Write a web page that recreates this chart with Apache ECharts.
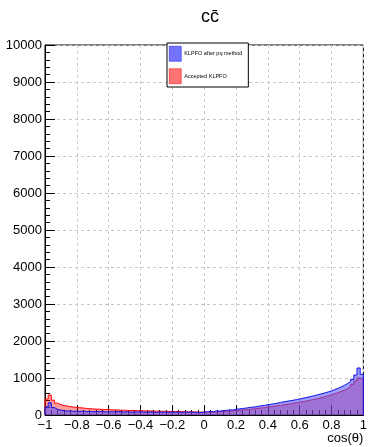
<!DOCTYPE html>
<html>
<head>
<meta charset="utf-8">
<script src="https://cdn.jsdelivr.net/npm/echarts@6/dist/echarts.min.js"></script>
<style>
  html, body { margin: 0; padding: 0; background: #fff; }
  #chart { width: 370px; height: 447px; }
</style>
</head>
<body>
<div id="chart"></div>
<script>
// cos(theta) histograms, 100 bins from -1 to 1
const binEdgeLow = -1;
const binWidth = 0.02;

// KLPFO after pq method (entries per bin)
const klpfoAfterPq = [
  220, 330, 200, 150, 130, 120, 105, 115, 100, 105,
  95, 110, 90, 100, 85, 95, 90, 100, 85, 80,
  90, 80, 95, 85, 80, 90, 75, 85, 80, 90,
  80, 75, 85, 80, 70, 85, 75, 80, 70, 85,
  75, 80, 70, 85, 75, 80, 70, 75, 65, 80,
  85, 95, 90, 110, 105, 120, 125, 140, 135, 155,
  165, 175, 185, 200, 210, 220, 235, 250, 260, 280,
  290, 305, 320, 340, 355, 370, 385, 400, 415, 435,
  450, 470, 490, 510, 530, 555, 575, 600, 625, 650,
  690, 720, 760, 800, 850, 900, 960, 1080, 1270, 1100
];

// Accepted KLPFO (entries per bin)
const acceptedKlpfo = [
  430, 540, 400, 320, 280, 255, 240, 225, 215, 205,
  195, 190, 178, 172, 165, 160, 155, 150, 148, 145,
  140, 138, 135, 130, 130, 125, 122, 120, 118, 115,
  112, 110, 108, 105, 104, 102, 100, 98, 96, 95,
  93, 92, 90, 88, 86, 85, 83, 80, 78, 75,
  72, 75, 80, 85, 90, 95, 100, 105, 110, 120,
  125, 135, 140, 150, 160, 170, 180, 190, 200, 215,
  225, 235, 250, 260, 275, 285, 300, 315, 330, 345,
  360, 375, 395, 410, 430, 450, 470, 495, 520, 545,
  575, 600, 635, 670, 710, 760, 830, 920, 1000, 960
];

const seriesNames = ['KLPFO after pq method', 'Accepted KLPFO'];

// turn bin contents into step-outline points (left edges + closing edge)
function histPoints(counts) {
  const pts = [[binEdgeLow, 0]];
  counts.forEach((v, i) => pts.push([+(binEdgeLow + i * binWidth).toFixed(4), v]));
  const hi = +(binEdgeLow + counts.length * binWidth).toFixed(4);
  pts.push([hi, counts[counts.length - 1]]);
  pts.push([hi, 0]);
  return pts;
}

const font = '"Liberation Sans", Arial, Helvetica, sans-serif';
const chart = echarts.init(document.getElementById('chart'), null, { renderer: 'canvas' });

chart.setOption({
  animation: false,
  backgroundColor: '#ffffff',
  title: {
    text: 'cc\u0304',
    left: 205,
    top: 3,
    textAlign: 'center',
    textStyle: { fontFamily: font, fontSize: 18, fontWeight: 'normal', color: '#000' }
  },
  legend: {
    data: seriesNames,
    orient: 'vertical',
    left: 167,
    top: 43,
    padding: [3, 6, 3, 2],
    itemGap: 7,
    itemWidth: 12,
    itemHeight: 15,
    icon: 'rect',
    backgroundColor: '#ffffff',
    borderColor: '#000',
    borderWidth: 1,
    itemStyle: { borderWidth: 0.5 },
    textStyle: { fontFamily: font, fontSize: 5.5, color: '#000', padding: [0, 0, 0, -2] },
    z: 10
  },
  grid: { left: 45, right: 4, top: 45, bottom: 32, show: true, borderColor: '#000', borderWidth: 1, containLabel: false },
  xAxis: {
    type: 'value',
    min: -1,
    max: 1,
    interval: 0.2,
    name: 'cos(\u03b8)',
    nameLocation: 'end',
    nameGap: 0,
    nameTextStyle: { fontFamily: font, fontSize: 13, color: '#000', align: 'right', verticalAlign: 'top', padding: [17, 0, 0, 0] },
    axisLine: { show: true, onZero: false, lineStyle: { color: '#000', width: 1 } },
    axisTick: { show: true, inside: true, length: 10, lineStyle: { color: '#000' } },
    minorTick: { show: true, splitNumber: 5, length: 5, lineStyle: { color: '#000' } },
    axisLabel: {
      fontFamily: font, fontSize: 13, color: '#000', margin: 4,
      showMinLabel: true, showMaxLabel: true,
      formatter: v => {
        const r = Math.round(v * 10) / 10;
        const s = Math.abs(r).toString();
        return r < 0 ? '\u2212' + s : s;
      }
    },
    splitLine: { show: true, lineStyle: { color: '#c8c8c8', type: [3, 3], width: 1 } }
  },
  yAxis: {
    type: 'value',
    min: 0,
    max: 10000,
    interval: 1000,
    axisLine: { show: true, onZero: false, lineStyle: { color: '#000', width: 1 } },
    axisTick: { show: true, inside: true, length: 10, lineStyle: { color: '#000' } },
    minorTick: { show: true, splitNumber: 5, length: 5, lineStyle: { color: '#000' } },
    axisLabel: { fontFamily: font, fontSize: 13, color: '#000', margin: 3, formatter: v => String(v) },
    splitLine: { show: true, lineStyle: { color: '#c8c8c8', type: [3, 3], width: 1 } }
  },
  series: [
    {
      name: seriesNames[1],
      type: 'line',
      step: 'end',
      symbol: 'none',
      data: histPoints(acceptedKlpfo),
      lineStyle: { color: '#ff0000', width: 1 },
      itemStyle: { color: 'rgba(255,0,0,0.55)', borderColor: '#ff0000' },
      areaStyle: { color: 'rgba(255,0,0,0.55)' },
      z: 2
    },
    {
      name: seriesNames[0],
      type: 'line',
      step: 'end',
      symbol: 'none',
      data: histPoints(klpfoAfterPq),
      lineStyle: { color: '#1010e0', width: 1 },
      itemStyle: { color: 'rgba(80,80,255,0.8)', borderColor: '#1010e0' },
      areaStyle: { color: 'rgba(80,80,255,0.8)' },
      z: 3
    }
  ]
});
</script>
</body>
</html>
